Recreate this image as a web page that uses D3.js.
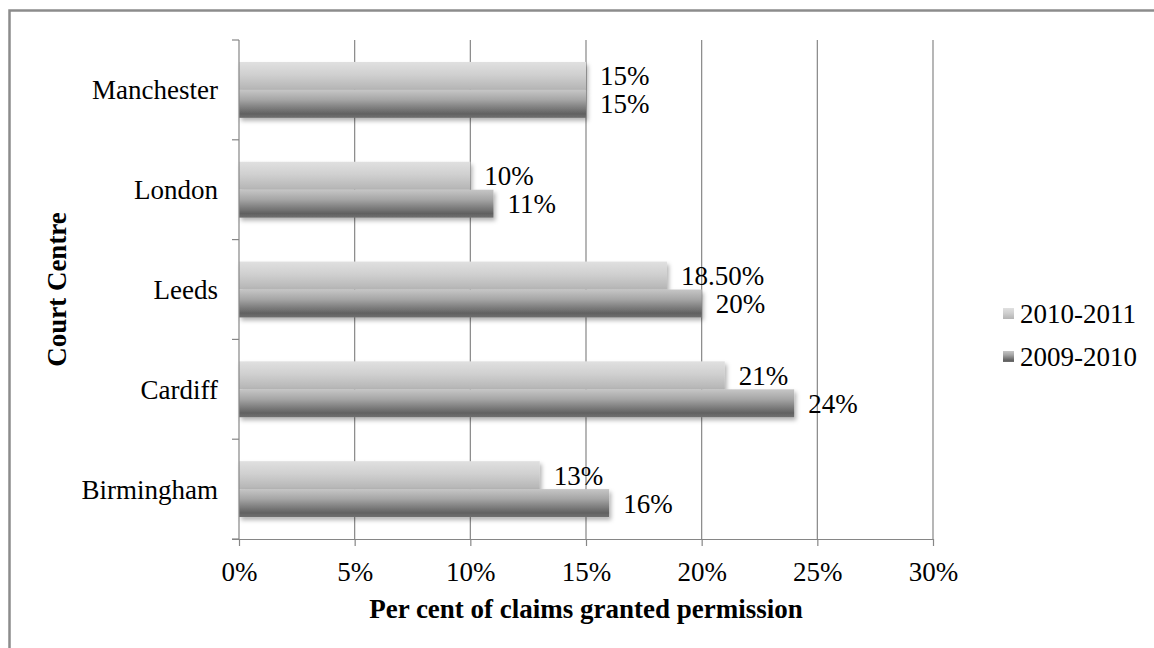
<!DOCTYPE html>
<html>
<head>
<meta charset="utf-8">
<script src="https://cdn.jsdelivr.net/npm/d3@7"></script>
<style>
  html, body { margin: 0; padding: 0; background: #fff; }
  svg { display: block; }
</style>
</head>
<body>
<svg id="chart" width="1154" height="648"></svg>
<script>
// Permission rates by court centre, two reporting years
const categories = ["Manchester", "London", "Leeds", "Cardiff", "Birmingham"];
const seriesNames = ["2010-2011", "2009-2010"];
const values2010_2011 = [15, 10, 18.5, 21, 13];
const values2009_2010 = [15, 11, 20, 24, 16];
const xTickValues = [0, 5, 10, 15, 20, 25, 30];

const seriesValues = [values2010_2011, values2009_2010];
const fmtLabel = v => (Number.isInteger(v) ? v : v.toFixed(2)) + "%";

const FONT = '"Liberation Serif"';
const svg = d3.select("#chart");
const W = 1154, H = 648;
const plot = { left: 239, right: 933, top: 40, bottom: 539 };
const fontSize = 27;

svg.append("rect").attr("width", W).attr("height", H).attr("fill", "#fff");

// outer frame
svg.append("path")
  .attr("d", `M9.5,${H + 5} V10.5 H${W + 5}`)
  .attr("fill", "none")
  .attr("stroke", "#8c8c8c")
  .attr("stroke-width", 2.5);

const defs = svg.append("defs");
const gradStops = {
  light: [[0, "#e0e0e0"], [0.45, "#d0d0d0"], [1, "#b4b4b4"]],
  dark: [[0, "#c6c6c6"], [0.35, "#a6a6a6"], [0.85, "#616161"], [1, "#707070"]]
};
Object.entries(gradStops).forEach(([id, stops]) => {
  const g = defs.append("linearGradient").attr("id", "grad-" + id)
    .attr("x1", 0).attr("y1", 0).attr("x2", 0).attr("y2", 1);
  stops.forEach(([o, c]) => g.append("stop").attr("offset", o).attr("stop-color", c));
});
defs.append("filter").attr("id", "barShadow")
  .attr("x", "-5%").attr("y", "-20%").attr("width", "115%").attr("height", "160%")
  .append("feDropShadow")
  .attr("dx", 2).attr("dy", 3).attr("stdDeviation", 2)
  .attr("flood-color", "#000").attr("flood-opacity", 0.3);

const fills = ["url(#grad-light)", "url(#grad-dark)"];

const x = d3.scaleLinear().domain([0, 30]).range([plot.left, plot.right]);
const y = d3.scaleBand().domain(categories).range([plot.top, plot.bottom])
  .paddingInner(0.44).paddingOuter(0.22);
const ySub = d3.scaleBand().domain(seriesNames).range([0, y.bandwidth()]);
const yOuter = d3.scaleBand().domain(categories).range([plot.top, plot.bottom]);

// vertical gridlines
svg.append("g")
  .selectAll("line")
  .data(xTickValues.filter(d => d > 0))
  .join("line")
  .attr("x1", d => x(d)).attr("x2", d => x(d))
  .attr("y1", plot.top).attr("y2", plot.bottom)
  .attr("stroke", "#868686").attr("stroke-width", 1.2);

// bars
const groups = svg.append("g")
  .selectAll("g")
  .data(categories)
  .join("g")
  .attr("transform", d => `translate(0,${y(d)})`);

seriesNames.forEach((s, si) => {
  groups.append("rect")
    .attr("x", x(0))
    .attr("y", ySub(s))
    .attr("width", (d, i) => x(seriesValues[si][i]) - x(0))
    .attr("height", ySub.bandwidth())
    .attr("fill", fills[si])
    .attr("filter", "url(#barShadow)");
});

// value labels
seriesNames.forEach((s, si) => {
  groups.append("text")
    .attr("x", (d, i) => x(seriesValues[si][i]) + 14)
    .attr("y", ySub(s) + ySub.bandwidth() / 2)
    .attr("dy", "0.35em")
    .style("font-family", FONT)
    .style("font-size", fontSize + "px")
    .attr("fill", "#000")
    .text((d, i) => fmtLabel(seriesValues[si][i]));
});

// y axis
const yAxisG = svg.append("g");
yAxisG.append("line")
  .attr("x1", plot.left).attr("x2", plot.left)
  .attr("y1", plot.top).attr("y2", plot.bottom)
  .attr("stroke", "#868686").attr("stroke-width", 1.2);
const yTickPos = categories.map(c => yOuter(c)).concat([plot.bottom]);
yAxisG.selectAll("line.tick")
  .data(yTickPos)
  .join("line")
  .attr("class", "tick")
  .attr("x1", plot.left - 7).attr("x2", plot.left)
  .attr("y1", d => d).attr("y2", d => d)
  .attr("stroke", "#868686").attr("stroke-width", 1.2);
yAxisG.selectAll("text")
  .data(categories)
  .join("text")
  .attr("x", 218)
  .attr("y", d => y(d) + y.bandwidth() / 2)
  .attr("dy", "0.35em")
  .attr("text-anchor", "end")
  .style("font-family", FONT)
  .style("font-size", fontSize + "px")
  .attr("fill", "#000")
  .text(d => d);

// x axis
const xAxis = d3.axisBottom(x)
  .tickValues(xTickValues)
  .tickFormat(d => d + "%")
  .tickSize(7)
  .tickPadding(16);
const xAxisG = svg.append("g")
  .attr("transform", `translate(0,${plot.bottom})`)
  .call(xAxis);
xAxisG.select(".domain")
  .attr("d", `M${plot.left - 7},0.5H${plot.right}`)
  .attr("stroke", "#868686").attr("stroke-width", 1.2);
xAxisG.selectAll(".tick line").attr("stroke", "#868686").attr("stroke-width", 1.2);
xAxisG.selectAll(".tick text")
  .style("font-family", FONT)
  .style("font-size", fontSize + "px")
  .attr("fill", "#000");

// axis titles
svg.append("text")
  .attr("x", (plot.left + plot.right) / 2)
  .attr("y", 618)
  .attr("text-anchor", "middle")
  .style("font-family", FONT)
  .style("font-size", fontSize + "px")
  .style("font-weight", "bold")
  .attr("fill", "#000")
  .text("Per cent of claims granted permission");

svg.append("text")
  .attr("transform", `translate(66,${(plot.top + plot.bottom) / 2}) rotate(-90)`)
  .attr("text-anchor", "middle")
  .style("font-family", FONT)
  .style("font-size", fontSize + "px")
  .style("font-weight", "bold")
  .attr("fill", "#000")
  .text("Court Centre");

// legend
const legend = svg.append("g")
  .selectAll("g")
  .data(seriesNames)
  .join("g")
  .attr("transform", (d, i) => `translate(1003,${314 + i * 43})`);
legend.append("rect")
  .attr("x", 0).attr("y", -6)
  .attr("width", 11).attr("height", 11)
  .attr("fill", (d, i) => fills[i]);
legend.append("text")
  .attr("x", 17)
  .attr("y", 0)
  .attr("dy", "0.35em")
  .style("font-family", FONT)
  .style("font-size", fontSize + "px")
  .attr("fill", "#000")
  .text(d => d);
</script>
</body>
</html>
